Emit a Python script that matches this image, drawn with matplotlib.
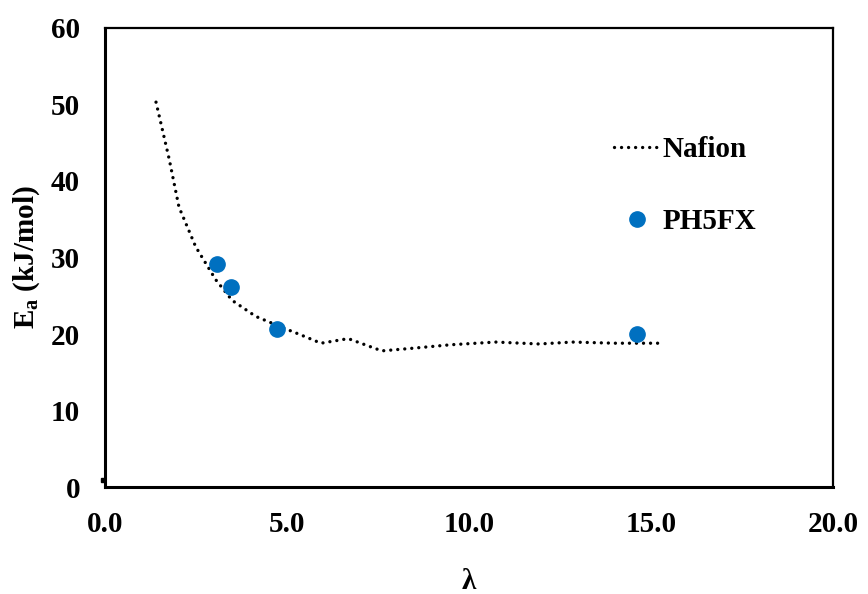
import matplotlib
matplotlib.use("Agg")
from matplotlib import pyplot as plt

# Nafion curve
nafion_lam = [1.40, 1.76, 2.03, 2.49, 3.04, 3.49, 4.14, 5.0, 5.37, 5.93, 6.68, 7.6, 8.35, 9.5, 10.73, 11.92, 12.84, 14.0, 15.22]
nafion_ea = [50.3, 42.9, 36.6, 31.4, 27.1, 24.4, 22.3, 20.6, 19.9, 18.8, 19.4, 17.8, 18.1, 18.6, 18.95, 18.7, 18.95, 18.8, 18.8]

# PH5FX points
ph5fx_lam = [3.07, 3.47, 4.73, 14.6]
ph5fx_ea = [29.2, 26.2, 20.6, 20.0]

xticks = [0, 5, 10, 15, 20]
yticks = [0, 10, 20, 30, 40, 50, 60]

plt.rcParams['font.family'] = ['Liberation Serif', 'DejaVu Serif']
plt.rcParams['font.weight'] = 'bold'
plt.rcParams['mathtext.fontset'] = 'custom'
plt.rcParams['mathtext.rm'] = 'Liberation Serif:bold'
plt.rcParams['mathtext.bf'] = 'Liberation Serif:bold'
plt.rcParams['mathtext.it'] = 'Liberation Serif:bold'

fig = plt.figure(figsize=(8.68, 5.94), dpi=100)
ax = fig.add_axes([0.121, 0.180, 0.839, 0.773])

ax.plot(nafion_lam, nafion_ea, color='black', lw=2.4,
        linestyle=(0, (0.01, 2.1)), dash_capstyle='round', label='Nafion')
ax.plot(ph5fx_lam, ph5fx_ea, 'o', color='#0070C0', ms=11, ls='none', label='PH5FX')
# small stray mark near the origin
ax.plot([-0.05], [0.9], 's', color='black', ms=2.5, clip_on=False)

ax.set_xlim(0, 20)
ax.set_ylim(0, 60)
ax.set_xticks(xticks)
ax.set_xticklabels([f"{v:.1f}" for v in xticks])
ax.set_yticks(yticks)
ax.tick_params(length=0, labelsize=21)
ax.tick_params(axis='x', pad=17)
ax.tick_params(axis='y', pad=18)
for lab in ax.get_xticklabels() + ax.get_yticklabels():
    lab.set_fontweight('bold')

for s in ax.spines.values():
    s.set_linewidth(1.6)
ax.spines['left'].set_linewidth(2.2)
ax.spines['bottom'].set_linewidth(2.2)

ax.set_xlabel('λ', fontsize=21, fontweight='bold', labelpad=22)
ax.set_ylabel('E$_\\mathrm{a}$ (kJ/mol)', fontsize=21, fontweight='bold', labelpad=6)

leg = ax.legend(loc='upper left', bbox_to_anchor=(0.663, 0.822), frameon=False,
                prop={'weight': 'bold', 'size': 21},
                labelspacing=1.55, handlelength=1.55, handletextpad=0.1)

fig.savefig('out.png', dpi=100)
